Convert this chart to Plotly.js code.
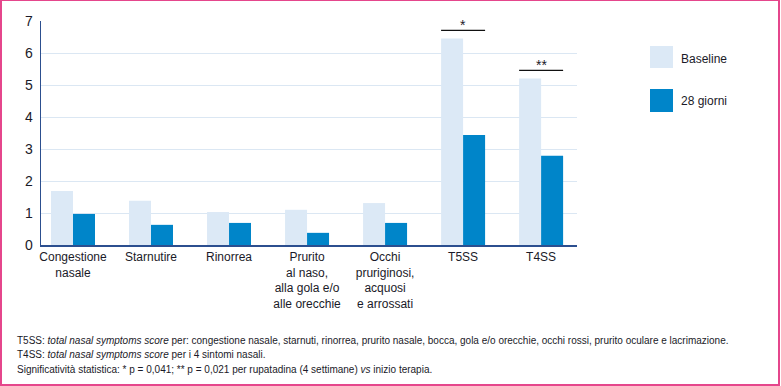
<!DOCTYPE html>
<html>
<head>
<meta charset="utf-8">
<script src="https://cdn.plot.ly/plotly-3.0.1.min.js"></script>
<style>
  html, body { margin: 0; padding: 0; background: #fff; }
  #wrap { position: relative; width: 781px; height: 386px; }
  #chart { position: absolute; left: 0; top: 0; width: 781px; height: 386px; }
  #frame { position: absolute; left: 0px; top: -1px; width: 776px; height: 383px;
           border: 2px solid #e5468c; pointer-events: none; }
</style>
</head>
<body>
<div id="wrap">
  <div id="chart"></div>
  <div id="frame"></div>
</div>
<script>
// ---- data ----
const categories = [
  "Congestione<br>nasale",
  "Starnutire",
  "Rinorrea",
  "Prurito<br>al naso,<br>alla gola e/o<br>alle orecchie",
  "Occhi<br>pruriginosi,<br>acquosi<br>e arrossati",
  "T5SS",
  "T4SS"
];
const baseline = [1.69, 1.38, 1.03, 1.10, 1.31, 6.45, 5.20];
const giorni28 = [0.97, 0.63, 0.69, 0.38, 0.69, 3.44, 2.79];
const seriesNames = ["Baseline", "28 giorni"];
const yTicks = [0, 1, 2, 3, 4, 5, 6, 7];
const significance = [
  { category: "T5SS", label: "*" },
  { category: "T4SS", label: "**" }
];
const footnotes = [
  "T5SS: <i>total nasal symptoms score</i> per: congestione nasale, starnuti, rinorrea, prurito nasale, bocca, gola e/o orecchie, occhi rossi, prurito oculare e lacrimazione.",
  "T4SS: <i>total nasal symptoms score</i> per i 4 sintomi nasali.",
  "Significatività statistica: * p = 0,041; ** p = 0,021 per rupatadina (4 settimane) <i>vs</i> inizio terapia."
];

// ---- styles ----
const lightCol = "#dce9f6";
const darkCol = "#0085c9";
const axisCol = "#2c4f8f";
const gridCol = "#dbe7f3";
const textCol = "#1a1a28";
const FONT = "'Liberation Sans', Arial, sans-serif";

const W = 781, H = 386;
const L = 41, R = 577, T = 21, B = 245;
const pw = R - L, ph = B - T;
const px = v => (v - L) / pw;
const py = v => (B - v) / ph;

const bargap = 0.436;
const halfGroup = (1 - bargap) / 2;

const traces = [
  { type: "bar", x: categories, y: baseline, name: seriesNames[0],
    marker: { color: lightCol }, hoverinfo: "skip" },
  { type: "bar", x: categories, y: giorni28, name: seriesNames[1],
    marker: { color: darkCol }, hoverinfo: "skip" }
];

const shapes = [];
const annotations = [];

// significance brackets above bars
significance.forEach(s => {
  const idx = categories.indexOf(s.category);
  const top = Math.max(baseline[idx], giorni28[idx]);
  const yLine = top + 0.26;
  shapes.push({ type: "line", xref: "x", yref: "y",
    x0: idx - halfGroup, x1: idx + halfGroup, y0: yLine, y1: yLine,
    line: { color: "#111", width: 1.3 } });
  annotations.push({ xref: "x", yref: "y", x: idx, y: yLine - 0.16,
    text: s.label, showarrow: false, yanchor: "bottom",
    font: { family: FONT, size: 14, color: textCol } });
});

// custom legend
const legendRows = [
  { col: lightCol, y0: 46, y1: 68, ty: 59 },
  { col: darkCol, y0: 89, y1: 112, ty: 101 }
];
legendRows.forEach((r, i) => {
  shapes.push({ type: "rect", xref: "paper", yref: "paper",
    x0: px(650), x1: px(673), y0: py(r.y1), y1: py(r.y0),
    fillcolor: r.col, line: { width: 0 } });
  annotations.push({ xref: "paper", yref: "paper", x: px(679), y: py(r.ty),
    xanchor: "left", yanchor: "middle", showarrow: false, text: seriesNames[i],
    font: { family: FONT, size: 12, color: textCol } });
});

// footnotes
const footY = [340, 354, 369];
footnotes.forEach((t, i) => {
  annotations.push({ xref: "paper", yref: "paper", x: px(15), y: py(footY[i]),
    xanchor: "left", yanchor: "middle", showarrow: false, text: t, align: "left",
    font: { family: FONT, size: 10, color: textCol } });
});

const layout = {
  width: W, height: H,
  margin: { l: L, r: W - R, t: T, b: H - B, pad: 0 },
  paper_bgcolor: "#fff", plot_bgcolor: "#fff",
  barmode: "group", bargap: bargap, bargroupgap: 0,
  showlegend: false,
  font: { family: FONT, color: textCol },
  xaxis: {
    type: "category", range: [-0.41, 6.46],
    showline: true, linecolor: axisCol, linewidth: 1.5,
    ticks: "", showgrid: false, zeroline: false,
    tickfont: { family: FONT, size: 12, color: textCol },
    fixedrange: true
  },
  yaxis: {
    range: [0, 7], tickvals: yTicks, ticktext: yTicks.map(String),
    showline: true, linecolor: axisCol, linewidth: 1.5,
    showgrid: true, gridcolor: gridCol, gridwidth: 1,
    zeroline: false, ticks: "", ticklabelstandoff: 4,
    tickfont: { family: FONT, size: 14, color: textCol },
    fixedrange: true
  },
  shapes: shapes,
  annotations: annotations
};

Plotly.newPlot("chart", traces, layout, { displayModeBar: false, staticPlot: true });
</script>
</body>
</html>
